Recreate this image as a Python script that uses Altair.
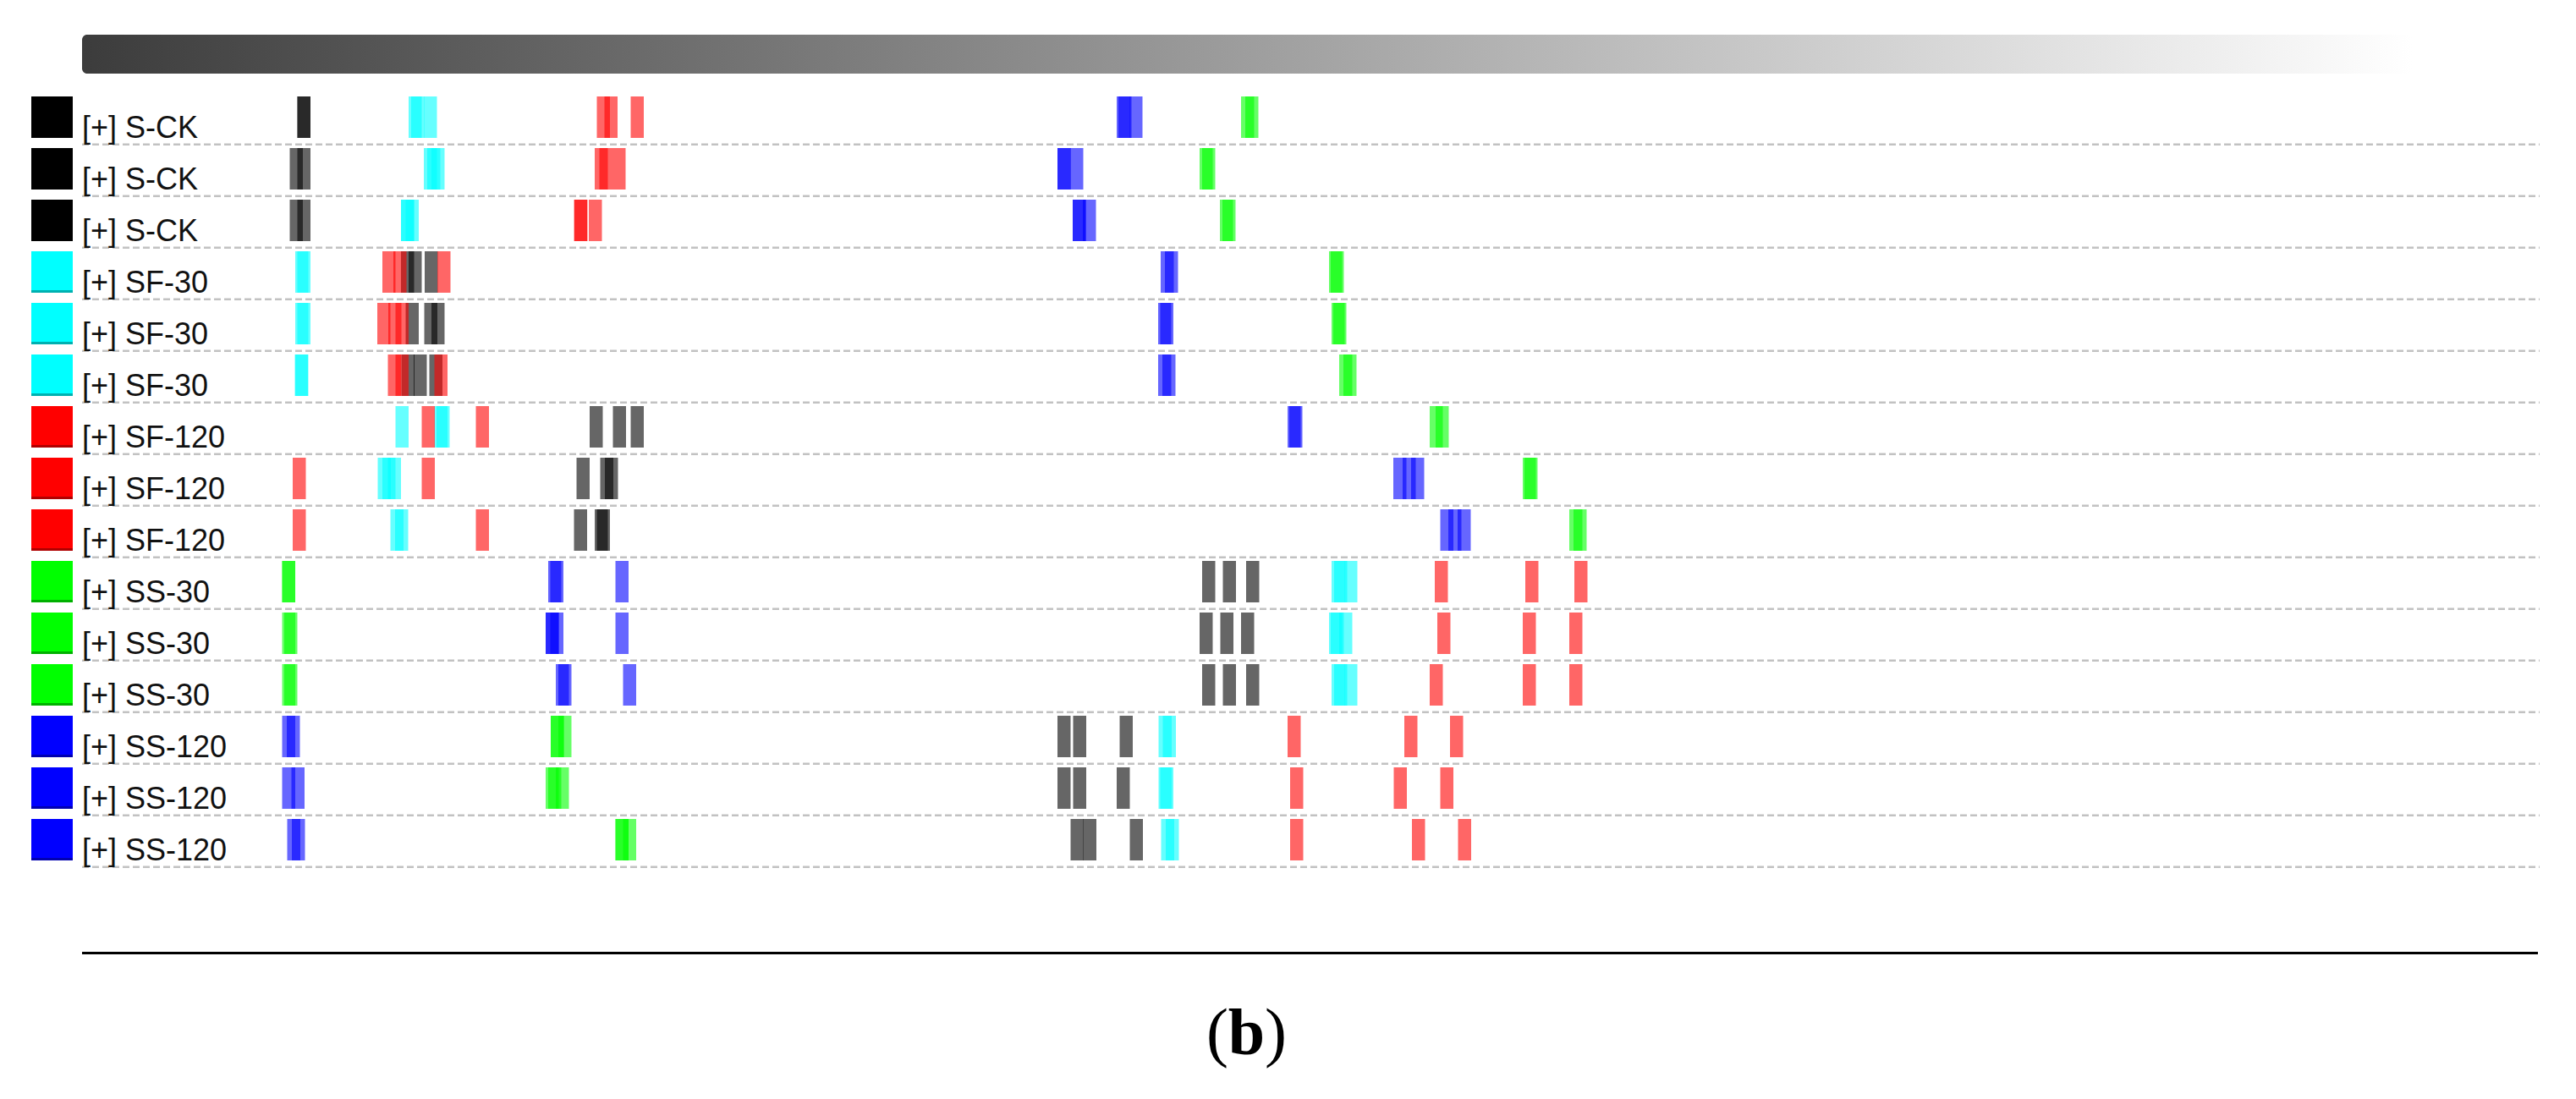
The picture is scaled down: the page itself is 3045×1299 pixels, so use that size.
import altair as alt
import pandas as pd

# ---- lanes (top to bottom) ----
lane_labels = (["[+] S-CK"] * 3 + ["[+] SF-30"] * 3 + ["[+] SF-120"] * 3
               + ["[+] SS-30"] * 3 + ["[+] SS-120"] * 3)
lane_swatch = (["#000000"] * 3 + ["#00ffff"] * 3 + ["#ff0000"] * 3
               + ["#00ff00"] * 3 + ["#0000ff"] * 3)
lane_swatch_edge = (["#000000"] * 3 + ["#00b0b0"] * 3 + ["#b00000"] * 3
                    + ["#00b000"] * 3 + ["#0000b0"] * 3)

# ---- band start positions (gel position units), one list per lane ----
gray_bands = [
    [351.5, 351.5], [342.5, 351.5], [342.5, 351.5],
    [474, 483, 502], [479.5, 501.5, 510], [474.5, 489, 507.5],
    [697, 724.5, 745.5], [681.5, 709.5, 715], [678.5, 703, 705.5],
    [1421, 1445.5, 1473], [1418, 1442.5, 1467], [1421, 1445.5, 1473],
    [1250, 1268.5, 1323.5], [1250, 1268.5, 1320], [1265.5, 1280.5, 1335.5],
]
cyan_bands = [
    [483, 486, 501], [501, 505, 510], [474, 474, 479.5],
    [349, 351.5], [349, 351.5], [348.5, 349],
    [467.5, 513.5, 516], [446.5, 452, 458.5], [461.5, 467],
    [1574, 1577, 1589], [1571, 1573, 1583], [1574, 1577, 1589],
    [1369.5, 1374.5], [1369.5, 1371.5], [1372.5, 1378],
]
red_bands = [
    [705.5, 714.5, 745.5], [703, 708.5, 724], [678.5, 679, 696],
    [452, 465, 517], [446, 459, 467.5], [458.5, 467.5, 513.5],
    [498.5, 562.5], [346, 498.5], [346, 562.5],
    [1696, 1803, 1861], [1699, 1800, 1855], [1690, 1800, 1855],
    [1522, 1660, 1714], [1525, 1647.5, 1702.5], [1525, 1669, 1723.5],
]
green_bands = [
    [1467, 1472], [1418, 1421], [1442, 1445],
    [1571, 1573], [1574, 1576], [1583, 1588],
    [1690, 1697], [1800, 1802], [1855, 1860],
    [333.5, 333.5], [333.5, 336], [333.5, 336],
    [651, 651, 660], [645, 648, 657], [727.5, 727.5, 736.5],
]
blue_bands = [
    [1320, 1322, 1335], [1250, 1250, 1265], [1268, 1268, 1280],
    [1372, 1377], [1369, 1371.5], [1369, 1374],
    [1522, 1524], [1647, 1658, 1668], [1702.5, 1712, 1723],
    [648, 650.5, 727.5], [645, 645, 650.5, 727.5], [657, 660, 736.5],
    [333.5, 339], [333.5, 344.5], [339.5, 345],
]

dyes = ["gray", "cyan", "red", "green", "blue"]
dye_colors = ["#000000", "#00ffff", "#ff0000", "#00ff00", "#0000ff"]

lane_ids = [f"L{i:02d}" for i in range(len(lane_labels))]

rows = []
for dye, lists in zip(dyes, [gray_bands, cyan_bands, red_bands, green_bands, blue_bands]):
    for lid, starts in zip(lane_ids, lists):
        for s in starts:
            rows.append({"lane": lid, "dye": dye, "start": s})
bands_df = pd.DataFrame(rows)

lanes_df = pd.DataFrame({
    "lane": lane_ids, "label": lane_labels,
    "swatch": lane_swatch, "edge": lane_swatch_edge,
})
one = pd.DataFrame({"k": [0]})

# ---- scales ----
X_SCALE = alt.Scale(domain=[97, 3000], nice=False, zero=False)
Y_SCALE = alt.Scale(domain=lane_ids, range=[106, 1009],
                    paddingInner=12 / 61, paddingOuter=0)


def ylane(**kw):
    return alt.Y("lane:N", scale=Y_SCALE, sort=lane_ids, axis=None, **kw)


# gradient header bar
header = alt.Chart(one).mark_rect(
    cornerRadius=6,
    fill={"gradient": "linear", "x1": 0, "x2": 1, "y1": 0, "y2": 0,
          "stops": [{"offset": 0, "color": "#3c3c3c"},
                    {"offset": 1, "color": "#ffffff"}]},
).encode(x=alt.value(0), x2=alt.value(2755), y=alt.value(33), y2=alt.value(79))

# dashed lane separators
seps = alt.Chart(lanes_df).mark_rule(
    color="#c2c2c2", strokeWidth=2.5, strokeDash=[8, 4], yOffset=7.7
).encode(y=ylane(bandPosition=1), x=alt.value(0), x2=alt.value(2905))

# colour swatches
swatch = alt.Chart(lanes_df).mark_rect().encode(
    y=ylane(), x=alt.value(-60), x2=alt.value(-11),
    color=alt.Color("swatch:N", scale=None),
)
swatch_edge = alt.Chart(lanes_df).mark_rule(strokeWidth=3, yOffset=-1.5).encode(
    y=ylane(bandPosition=1), x=alt.value(-60), x2=alt.value(-11),
    color=alt.Color("edge:N", scale=None),
)

# lane labels
labels = alt.Chart(lanes_df).mark_text(
    align="left", baseline="alphabetic", font="Liberation Sans",
    fontSize=36, color="#111111",
).encode(y=ylane(bandPosition=1), x=alt.value(0), text="label:N")

# bands
bands = alt.Chart(bands_df).transform_calculate(
    end="datum.start + 15.5"
).mark_rect(opacity=0.6).encode(
    x=alt.X("start:Q", scale=X_SCALE, axis=None),
    x2="end:Q",
    y=ylane(),
    color=alt.Color("dye:N", scale=alt.Scale(domain=dyes, range=dye_colors), legend=None),
)

# bottom rule and caption
bottom_rule = alt.Chart(one).mark_rule(color="#000000", strokeWidth=3).encode(
    x=alt.value(0), x2=alt.value(2903), y=alt.value(1118.5)
)
cap_l = alt.Chart(one).mark_text(
    text="(", align="right", baseline="alphabetic", font="Liberation Serif", fontSize=78
).encode(x=alt.value(1355), y=alt.value(1238))
cap_b = alt.Chart(one).mark_text(
    text="b", align="center", baseline="alphabetic", font="Liberation Serif",
    fontSize=78, fontWeight="bold"
).encode(x=alt.value(1376.5), y=alt.value(1238))
cap_r = alt.Chart(one).mark_text(
    text=")", align="left", baseline="alphabetic", font="Liberation Serif", fontSize=78
).encode(x=alt.value(1398), y=alt.value(1238))

chart = alt.layer(
    header, seps, swatch, swatch_edge, labels, bands, bottom_rule, cap_l, cap_b, cap_r
).properties(
    width=2903, height=1115,
    background="#ffffff",
    padding={"left": 89, "top": 0, "right": 30, "bottom": 160},
    autosize=alt.AutoSizeParams(type="none"),
).configure_view(stroke=None, strokeWidth=0)

chart.save("out.html", embed_options={"renderer": "svg", "actions": False})
